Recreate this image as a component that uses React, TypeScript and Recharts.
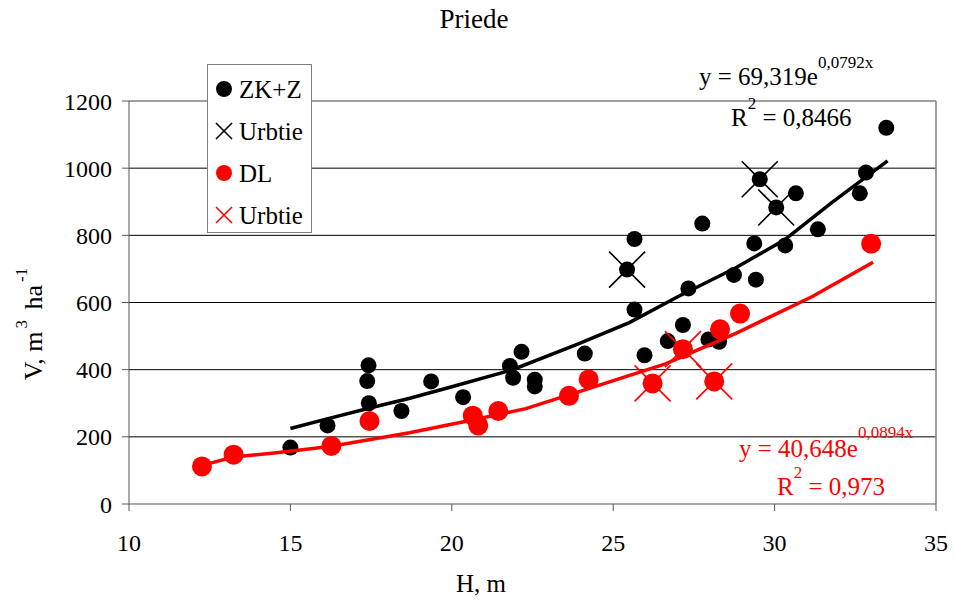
import React from 'react';
import { ComposedChart, Scatter, XAxis, YAxis, ReferenceLine, Legend } from 'recharts';

const xTicks = [10, 15, 20, 25, 30, 35];
const yTicks = [0, 200, 400, 600, 800, 1000, 1200];
const gridValues = [200, 400, 600, 800, 1000];

const zkH = [15.0, 16.15, 17.42, 17.38, 17.43, 18.44, 19.36, 20.35, 21.8, 21.9, 22.16, 22.57, 22.57, 24.12, 25.43, 25.66, 25.66, 25.97, 26.69, 27.16, 27.33, 27.76, 27.95, 28.28, 28.74, 29.37, 29.42, 29.54, 30.05, 30.33, 30.66, 31.34, 32.64, 32.83, 33.46];
const zkV = [168, 234, 413, 366, 300, 277, 365, 318, 411, 376, 453, 370, 350, 448, 698, 789, 579, 443, 485, 533, 642, 835, 490, 483, 682, 776, 668, 967, 883, 770, 925, 818, 925, 987, 1120];

const zkUrbH = [25.43, 29.54, 30.05];
const zkUrbV = [698, 967, 883];

const dlH = [12.26, 13.24, 16.27, 17.45, 20.65, 20.82, 21.44, 23.63, 24.24, 26.22, 27.16, 28.13, 28.31, 28.93, 32.99];
const dlV = [112, 147, 173, 247, 263, 234, 277, 322, 371, 359, 461, 365, 520, 567, 775];

const dlUrbH = [26.22, 27.16, 28.13];
const dlUrbV = [359, 461, 365];

const zkTrendH = [15, 16.2, 17.46, 18.7, 20, 21.86, 23.9, 25.5, 27.0, 28.77, 30.3, 31.75, 33.5];
const zkTrendV = [225, 255, 286, 315, 349, 399, 476, 540, 617, 702, 786, 896, 1022];

const dlTrendH = [12.26, 13.24, 14.5, 15.5, 16.27, 18.69, 20.64, 22.29, 23.9, 26.64, 28.8, 31.17, 33.05];
const dlTrendV = [115, 140, 152, 163, 172, 212, 250, 284, 333, 418, 508, 618, 720];

const legendLabels = ['ZK+Z', 'Urbtie', 'DL', 'Urbtie'];
const legendKinds = ['dot', 'cross', 'dot', 'cross'];
const legendColors = ['#000000', '#000000', '#ff0000', '#ff0000'];

const toPts = (xs: number[], ys: number[]) => xs.map((x, i) => ({ x, y: ys[i] }));

const FONT = '"Liberation Serif", "Times New Roman", serif';

const Dot = (color: string, r: number) => (props: any) => {
  const { cx, cy } = props;
  if (cx == null || cy == null) return <g />;
  return <circle cx={cx} cy={cy} r={r} fill={color} />;
};

const Cross = (color: string, h: number) => (props: any) => {
  const { cx, cy } = props;
  if (cx == null || cy == null) return <g />;
  return (
    <g stroke={color} strokeWidth={1.6}>
      <line x1={cx - h} y1={cy - h} x2={cx + h} y2={cy + h} />
      <line x1={cx - h} y1={cy + h} x2={cx + h} y2={cy - h} />
    </g>
  );
};

const Nothing = () => <g />;

const LegendBox = () => (
  <svg width={105} height={169} style={{ display: 'block', fontFamily: FONT }}>
    <rect x={0.5} y={0.5} width={104} height={168} fill="#fff" stroke="#808080" strokeWidth={1} />
    {legendLabels.map((lab, i) => {
      const cy = 25 + i * 42;
      const c = legendColors[i];
      return (
        <g key={i}>
          {legendKinds[i] === 'dot' ? (
            <circle cx={17} cy={cy} r={8} fill={c} />
          ) : (
            <g stroke={c} strokeWidth={1.6}>
              <line x1={9} y1={cy - 8} x2={25} y2={cy + 8} />
              <line x1={9} y1={cy + 8} x2={25} y2={cy - 8} />
            </g>
          )}
          <text x={32} y={cy + 8.5} style={{ fontFamily: FONT }} fontSize={25} fill="#000">{lab}</text>
        </g>
      );
    })}
  </svg>
);

export default function App() {
  return (
    <div style={{ position: 'absolute', left: 0, top: 0, width: 954, height: 605, background: '#fff', fontFamily: FONT }}>
      <ComposedChart width={954} height={605} margin={{ top: 101, right: 18, bottom: 61, left: 69 }} style={{ fontFamily: FONT }}>
        <XAxis
          type="number"
          dataKey="x"
          domain={[10, 35]}
          ticks={xTicks}
          allowDataOverflow
          height={40}
          stroke="#555"
          tickSize={7}
          tickMargin={23}
          tick={{ fill: '#000', fontSize: 24, fontFamily: FONT, style: { fontFamily: FONT } }}
        />
        <YAxis
          type="number"
          dataKey="y"
          domain={[0, 1200]}
          ticks={yTicks}
          allowDataOverflow
          width={60}
          stroke="#555"
          tickSize={7}
          tickMargin={10}
          tick={{ fill: '#000', fontSize: 24, fontFamily: FONT, style: { fontFamily: FONT } }}
        />
        {gridValues.map((v) => (
          <ReferenceLine key={v} y={v} stroke="#000" strokeWidth={1} />
        ))}
        <ReferenceLine y={1200} stroke="#808080" strokeWidth={1.5} />
        <ReferenceLine x={35} stroke="#808080" strokeWidth={1.5} />
        <Scatter data={toPts(zkH, zkV)} fill="#000" shape={Dot('#000', 8)} isAnimationActive={false} legendType="none" />
        <Scatter data={toPts(dlH, dlV)} fill="#f00" shape={Dot('#ff0000', 10)} isAnimationActive={false} legendType="none" />
        <Scatter data={toPts(zkUrbH, zkUrbV)} shape={Cross('#000', 18)} isAnimationActive={false} legendType="none" />
        <Scatter data={toPts(dlUrbH, dlUrbV)} shape={Cross('#ff0000', 18)} isAnimationActive={false} legendType="none" />
        <Scatter
          data={toPts(zkTrendH, zkTrendV)}
          shape={Nothing}
          line={{ stroke: '#000', strokeWidth: 3.5, fill: 'none' }}
          lineType="joint"
          isAnimationActive={false}
          legendType="none"
        />
        <Scatter
          data={toPts(dlTrendH, dlTrendV)}
          shape={Nothing}
          line={{ stroke: '#ff0000', strokeWidth: 3.5, fill: 'none' }}
          lineType="joint"
          isAnimationActive={false}
          legendType="none"
        />
        <Legend
          layout="horizontal"
          verticalAlign="middle"
          align="center"
          content={() => <LegendBox />}
          wrapperStyle={{ position: 'absolute', left: 207, top: 64, width: 105, height: 169 }}
        />
      </ComposedChart>
      <svg
        width={954}
        height={605}
        style={{ position: 'absolute', left: 0, top: 0, pointerEvents: 'none', fontFamily: FONT }}
      >
        <text x={474} y={28} textAnchor="middle" fontSize={27} fill="#000">Priede</text>
        <text x={481} y={592} textAnchor="middle" fontSize={25} fill="#000">H, m</text>
        <text transform="translate(42, 324) rotate(-90)" textAnchor="middle" fontSize={26} fill="#000">
          V, m<tspan fontSize={17} dx={3} dy={-15}>3</tspan><tspan dx={4} dy={15}> ha</tspan><tspan fontSize={17} dx={3} dy={-15}>-1</tspan>
        </text>
        <text x={699} y={85} fontSize={25} fill="#000">
          y = 69,319e<tspan fontSize={17} dy={-17}>0,0792x</tspan>
        </text>
        <text x={731} y={126} fontSize={25} fill="#000">
          R<tspan fontSize={17} dy={-17}>2</tspan><tspan dy={17}> = 0,8466</tspan>
        </text>
        <text x={739} y={457} fontSize={25} fill="#ff0000">
          y = 40,648e<tspan fontSize={17} dy={-19}>0,0894x</tspan>
        </text>
        <text x={777} y={495} fontSize={25} fill="#ff0000">
          R<tspan fontSize={17} dy={-17}>2</tspan><tspan dy={17}> = 0,973</tspan>
        </text>
      </svg>
    </div>
  );
}
